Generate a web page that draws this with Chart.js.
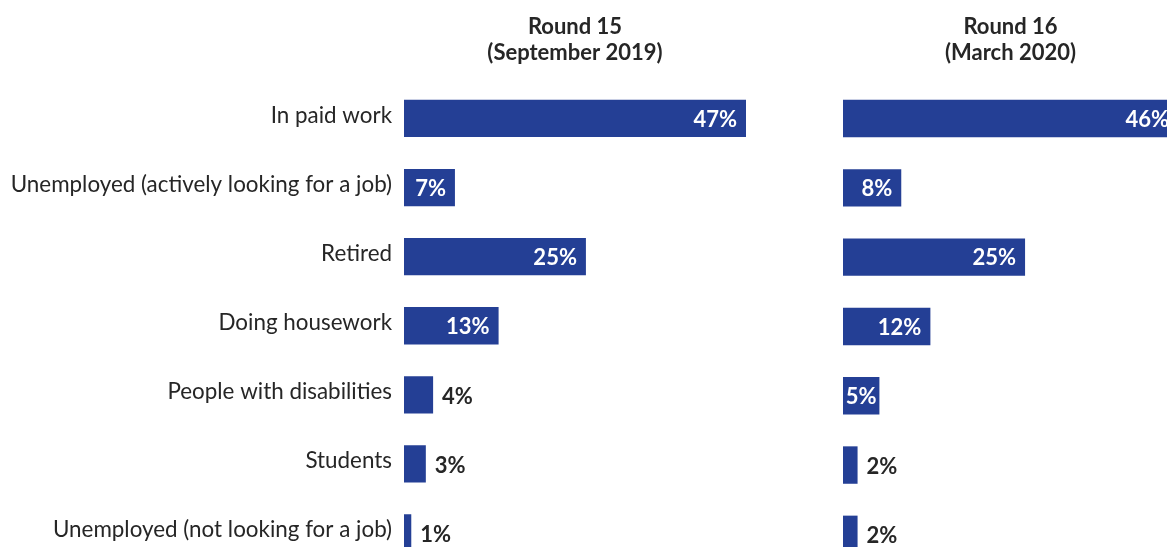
<!DOCTYPE html>
<html>
<head>
<meta charset="utf-8">
<script src="https://cdn.jsdelivr.net/npm/chart.js@4/dist/chart.umd.min.js"></script>
<style>
  html, body { margin: 0; padding: 0; background: #fff; }
  body { width: 1167px; height: 547px; overflow: hidden; position: relative; }
  canvas { position: absolute; top: 0; }
  #left { left: 0; }
  #right { left: 800px; }
</style>
</head>
<body>
<canvas id="left" width="800" height="593"></canvas>
<canvas id="right" width="400" height="580"></canvas>
<script>
// Categories and the two survey rounds
const categories = [
    'In paid work',
    'Unemployed (actively looking for a job)',
    'Retired',
    'Doing housework',
    'People with disabilities',
    'Students',
    'Unemployed (not looking for a job)'
];
const round15 = [47, 7, 25, 13, 4, 3, 1];
const round16 = [46, 8, 25, 12, 5, 2, 2];
const round15Title = ['Round 15', '(September 2019)'];
const round16Title = ['Round 16', '(March 2020)'];

const BAR_COLOR = '#243f95';
const TEXT_COLOR = '#262626';
const FONT = 'Lato, "Open Sans", sans-serif';

// Draws "NN%" at the end of each bar: white inside bars of 5% and up, dark outside smaller ones
const valueLabels = {
    id: 'valueLabels',
    afterDatasetsDraw(chart) {
        const ctx = chart.ctx;
        const meta = chart.getDatasetMeta(0);
        const data = chart.data.datasets[0].data;
        ctx.save();
        ctx.font = 'bold 22px ' + FONT;
        ctx.textBaseline = 'middle';
        meta.data.forEach((bar, i) => {
            const text = data[i] + '%';
            const barWidth = bar.x - bar.base;
            const textWidth = ctx.measureText(text).width;
            if (data[i] >= 5) {
                ctx.fillStyle = '#ffffff';
                if (textWidth + 18 > barWidth) {
                    // too tight for the usual inset, centre it in the bar
                    ctx.textAlign = 'center';
                    ctx.fillText(text, bar.base + barWidth / 2, bar.y + 1);
                } else {
                    ctx.textAlign = 'right';
                    ctx.fillText(text, bar.x - 9, bar.y + 1);
                }
            } else {
                ctx.fillStyle = TEXT_COLOR;
                ctx.textAlign = 'left';
                ctx.fillText(text, bar.x + 9, bar.y + 2);
            }
        });
        ctx.restore();
    }
};

function makeChart(id, values, title, showLabels, padding) {
    return new Chart(document.getElementById(id), {
        type: 'bar',
        data: {
            labels: categories,
            datasets: [{
                data: values,
                backgroundColor: BAR_COLOR,
                barPercentage: 0.54,
                categoryPercentage: 1
            }]
        },
        options: {
            indexAxis: 'y',
            responsive: false,
            animation: false,
            layout: { padding: padding },
            plugins: {
                legend: { display: false },
                tooltip: { enabled: false },
                title: {
                    display: true,
                    text: title,
                    fullSize: false,
                    color: TEXT_COLOR,
                    font: { family: FONT, size: 22, weight: 'bold', lineHeight: 1.18 },
                    padding: { top: 14, bottom: 18 }
                }
            },
            scales: {
                x: { display: false, min: 0, max: Math.max(...values) },
                y: {
                    display: showLabels,
                    grid: { display: false, drawTicks: false },
                    border: { display: false },
                    ticks: {
                        color: TEXT_COLOR,
                        padding: 12,
                        labelOffset: -3,
                        font: { family: FONT, size: 22.4 }
                    },
                    afterFit(scale) { if (showLabels) scale.width = 404; }
                }
            }
        },
        plugins: [valueLabels]
    });
}

makeChart('left', round15, round15Title, true, { left: 0, right: 54, top: 0, bottom: 11 });
makeChart('right', round16, round16Title, false, { left: 43, right: 22, top: 0, bottom: 11 });
</script>
</body>
</html>
